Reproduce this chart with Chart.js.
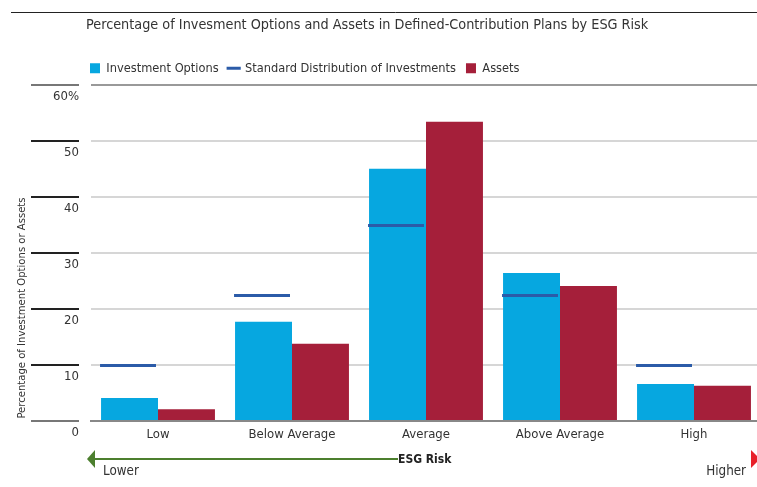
<!DOCTYPE html>
<html>
<head>
<meta charset="utf-8">
<script src="https://cdn.jsdelivr.net/npm/chart.js@4/dist/chart.umd.min.js"></script>
<style>
  html, body { margin: 0; padding: 0; background: #fff; overflow: hidden; }
  canvas { display: block; }
</style>
</head>
<body>
<canvas id="myChart" width="780" height="487"></canvas>
<script>
// values (percent)
const categories = ['Low', 'Below Average', 'Average', 'Above Average', 'High'];
const investmentOptions = [4.1, 17.7, 45.0, 26.4, 6.6];
const standardDistribution = [10, 22.5, 35, 22.5, 10];
const assets = [2.1, 13.8, 53.4, 24.1, 6.3];
const yTicks = [0, 10, 20, 30, 40, 50, 60];
const yTickLabels = ['0', '10', '20', '30', '40', '50', '60%'];

const FONT = "'Liberation Sans Narrow', 'DejaVu Sans Condensed', sans-serif";
Chart.defaults.font.family = FONT;
Chart.defaults.color = '#333';

// std distribution marks sit on top of the investment option bars
const stdLines = {
    id: 'stdLines',
    afterDatasetsDraw(chart) {
        const ctx = chart.ctx;
        const bars = chart.getDatasetMeta(0).data;
        const y = chart.scales.y;
        ctx.save();
        ctx.strokeStyle = '#2B5BA8';
        ctx.lineWidth = 3;
        bars.forEach((bar, i) => {
            const py = Math.round(y.getPixelForValue(standardDistribution[i])) + 0.5;
            ctx.beginPath();
            ctx.moveTo(bar.x - bar.width / 2 - 1, py);
            ctx.lineTo(bar.x + bar.width / 2 - 2, py);
            ctx.stroke();
        });
        ctx.restore();
    }
};

// title, left tick marks + labels, axis title, ESG risk arrow
const decorations = {
    id: 'decorations',
    afterDraw(chart) {
        const ctx = chart.ctx;
        const y = chart.scales.y;
        ctx.save();

        ctx.strokeStyle = '#222';
        ctx.lineWidth = 1;
        ctx.beginPath();
        ctx.moveTo(11, 12.5);
        ctx.lineTo(chart.width, 12.5);
        ctx.stroke();

        ctx.fillStyle = '#333';
        ctx.font = '14.3px ' + FONT;
        ctx.textBaseline = 'middle';
        ctx.textAlign = 'left';
        ctx.fillText('Percentage of Invesment Options and Assets in Defined-Contribution Plans by ESG Risk', 86, 25);

        yTicks.forEach((v, i) => {
            const py = Math.round(y.getPixelForValue(v));
            ctx.strokeStyle = (v === 0 || v === 60) ? '#777' : '#222';
            ctx.lineWidth = 2;
            ctx.beginPath();
            ctx.moveTo(31, py);
            ctx.lineTo(79, py);
            ctx.stroke();
            ctx.fillStyle = '#333';
            ctx.font = '13px ' + FONT;
            ctx.textAlign = 'right';
            ctx.fillText(yTickLabels[i], 79, py + 12);
        });

        ctx.save();
        ctx.translate(22, 308);
        ctx.rotate(-Math.PI / 2);
        ctx.font = '11.2px ' + FONT;
        ctx.textAlign = 'center';
        ctx.fillText('Percentage of Investment Options or Assets', 0, 0);
        ctx.restore();

        // green arrow towards lower risk
        ctx.strokeStyle = '#4C7F2E';
        ctx.fillStyle = '#4C7F2E';
        ctx.lineWidth = 2;
        ctx.beginPath();
        ctx.moveTo(92, 459);
        ctx.lineTo(398, 459);
        ctx.stroke();
        ctx.beginPath();
        ctx.moveTo(87, 459);
        ctx.lineTo(95, 450);
        ctx.lineTo(95, 468);
        ctx.closePath();
        ctx.fill();

        // red arrow towards higher risk (cut at the edge)
        ctx.fillStyle = '#E8202A';
        ctx.beginPath();
        ctx.moveTo(751, 450);
        ctx.lineTo(760, 459);
        ctx.lineTo(751, 468);
        ctx.closePath();
        ctx.fill();

        ctx.fillStyle = '#222';
        ctx.font = 'bold 12px ' + FONT;
        ctx.textAlign = 'left';
        ctx.fillText('ESG Risk', 398, 460);

        ctx.fillStyle = '#333';
        ctx.font = '13.3px ' + FONT;
        ctx.fillText('Lower', 103, 472);
        ctx.textAlign = 'right';
        ctx.fillText('Higher', 746, 472);

        ctx.restore();
    }
};

const ctx = document.getElementById('myChart');
new Chart(ctx, {
    type: 'bar',
    data: {
        labels: categories,
        datasets: [{
            label: 'Investment Options',
            data: investmentOptions,
            backgroundColor: '#06A7E0',
            borderWidth: 0,
            pointStyle: 'rect',
            categoryPercentage: 0.85,
            barPercentage: 1.0
        }, {
            type: 'line',
            label: 'Standard Distribution of Investments',
            data: standardDistribution,
            borderColor: '#2B5BA8',
            backgroundColor: '#2B5BA8',
            borderWidth: 3,
            showLine: false,
            pointRadius: 0,
            pointStyle: 'line'
        }, {
            label: 'Assets',
            data: assets,
            backgroundColor: '#A51F3A',
            borderWidth: 0,
            pointStyle: 'rect',
            categoryPercentage: 0.85,
            barPercentage: 1.0
        }]
    },
    options: {
        responsive: false,
        animation: false,
        layout: {
            padding: { left: 80, right: 19, top: 52, bottom: 0 }
        },
        plugins: {
            tooltip: { enabled: false },
            title: { display: false },
            legend: {
                position: 'top',
                align: 'start',
                labels: {
                    usePointStyle: true,
                    boxWidth: 10,
                    boxHeight: 10,
                    padding: 10,
                    color: '#333',
                    font: { size: 12.7 }
                }
            }
        },
        scales: {
            x: {
                grid: { display: false, drawTicks: false },
                border: { display: true, color: '#888', width: 2 },
                ticks: { padding: 6, color: '#333', font: { size: 13 } },
                afterFit(scale) { scale.height = 66; }
            },
            y: {
                min: 0,
                max: 60,
                afterBuildTicks(scale) { scale.ticks = yTicks.map(v => ({ value: v })); },
                grid: {
                    drawTicks: false,
                    lineWidth: 2,
                    color: c => c.tick.value === 60 ? '#999' : '#D6D6D6'
                },
                border: { display: false },
                ticks: { display: false },
                afterFit(scale) { scale.width = 11; }
            }
        }
    },
    plugins: [stdLines, decorations]
});
</script>
</body>
</html>
